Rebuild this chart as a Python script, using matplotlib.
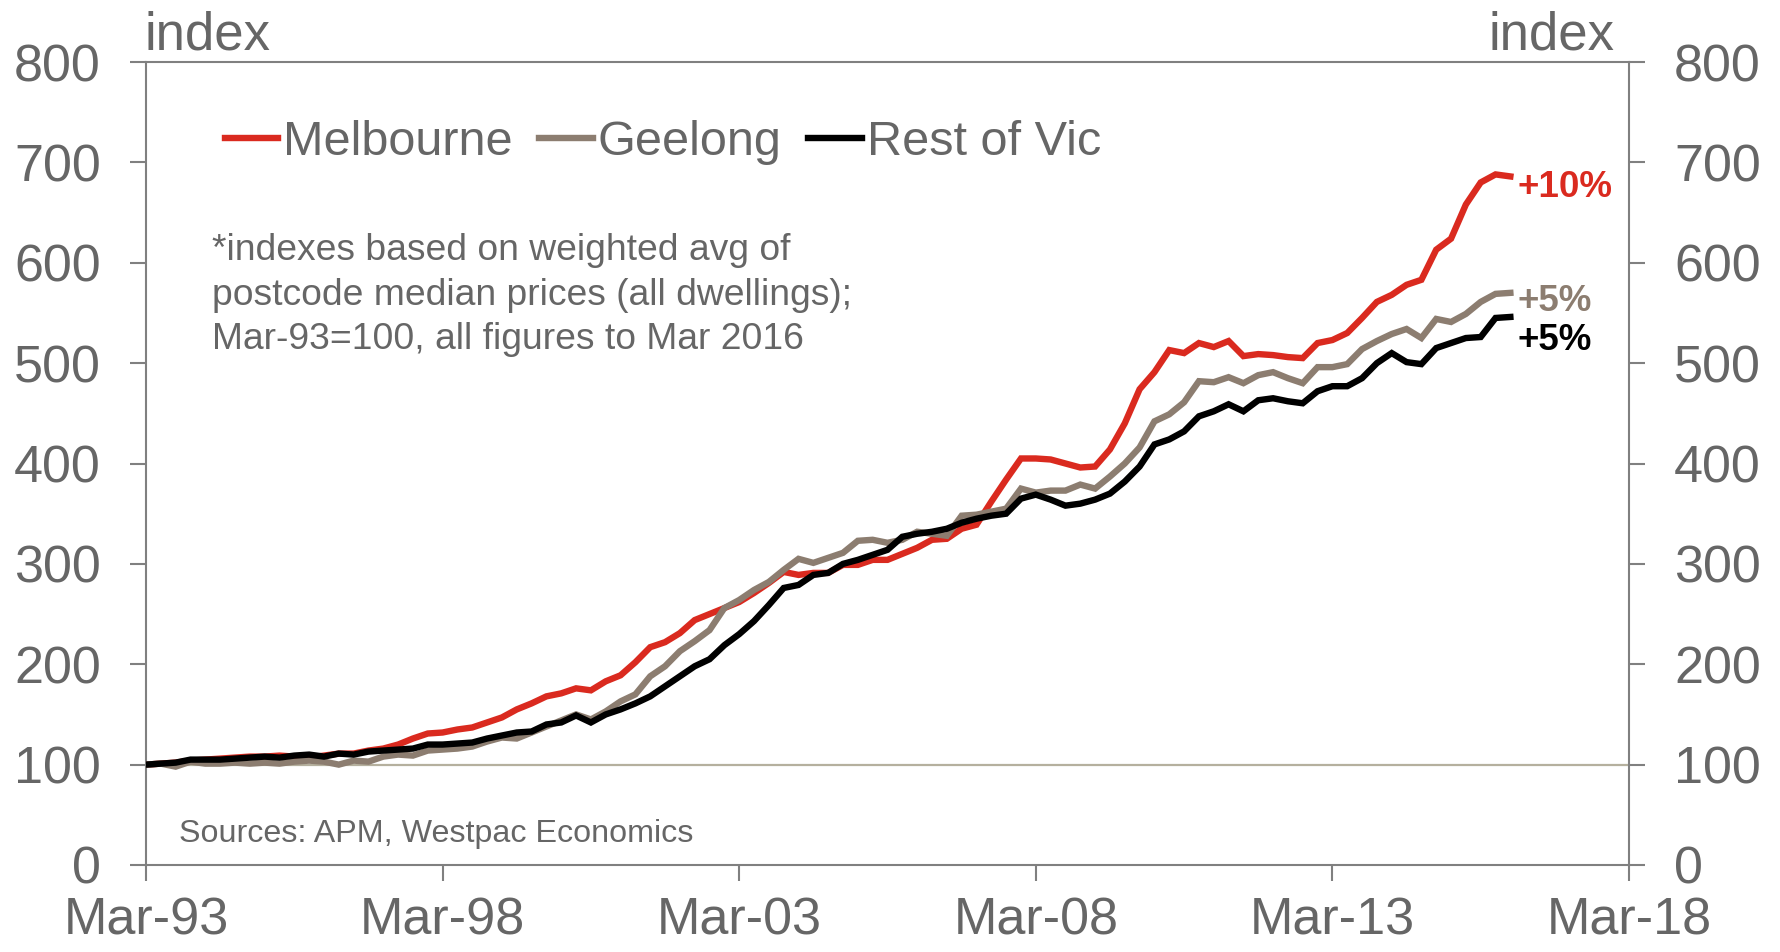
import matplotlib

matplotlib.use("Agg")

import matplotlib.pyplot as plt
import numpy as np

# quarterly index, Mar-93 = 100, to Mar-16
melbourne = [
    100, 101, 102, 104, 105, 106, 107, 108, 108, 109, 108, 107, 109,
    111, 111, 114, 116, 120, 126, 131, 132,
    135, 137, 142, 147, 155, 161, 168, 171, 176, 174,
    183, 189, 202, 217, 222, 231, 244, 250, 256, 262,
    271, 281, 292, 289, 291, 291, 299, 299, 304, 304,
    310, 316, 324, 325, 335, 339, 362, 384, 405, 405,
    404, 400, 396, 397, 414, 440, 474, 491, 513, 510,
    520, 516, 522, 507, 509, 508, 506, 505, 520, 523,
    530, 545, 561, 568, 578, 583, 613, 624, 658, 680, 688, 686,
]
geelong = [
    100, 101, 98, 103, 101, 101, 102, 101, 102, 101, 103, 104, 103,
    100, 104, 103, 108, 110, 109, 114, 115,
    116, 118, 123, 127, 126, 132, 138, 144, 150, 145,
    153, 163, 170, 188, 198, 213, 223, 234, 256, 264,
    274, 282, 294, 305, 301, 306, 311, 323, 324, 321,
    324, 332, 330, 328, 348, 349, 352, 355, 375, 371,
    373, 373, 379, 375, 387, 400, 416, 442, 449, 461,
    482, 481, 486, 480, 488, 491, 485, 480, 496, 496,
    499, 514, 522, 529, 534, 525, 544, 541, 549, 561, 569, 570,
]
rest_of_vic = [
    100, 101, 102, 105, 105, 105, 106, 107, 108, 107, 109, 110, 108,
    111, 110, 113, 114, 115, 116, 120, 120,
    121, 122, 126, 129, 132, 133, 140, 142, 149, 142,
    150, 155, 161, 168, 178, 188, 198, 205, 219, 230,
    243, 259, 276, 279, 289, 291, 300, 304, 309, 314,
    327, 330, 332, 335, 341, 345, 348, 350, 365, 369,
    364, 358, 360, 364, 370, 382, 397, 419, 424, 432,
    447, 452, 459, 452, 463, 465, 462, 460, 472, 477,
    477, 485, 500, 510, 501, 499, 515, 520, 525, 526, 545, 546,
]
series_names = ["Melbourne", "Geelong", "Rest of Vic"]
growth_labels = ["+10%", "+5%", "+5%"]
x_tick_labels = ["Mar-93", "Mar-98", "Mar-03", "Mar-08", "Mar-13", "Mar-18"]
y_ticks = [0, 100, 200, 300, 400, 500, 600, 700, 800]

RED = "#DA2A1F"
TAUPE = "#8C7D70"
BLACK = "#000000"
TEXT = "#666666"
AXIS = "#808080"
BASE = "#B5B09E"

plt.rcParams["font.family"] = ["Liberation Sans", "DejaVu Sans"]

fig = plt.figure(figsize=(17.81, 9.52), dpi=100)
ax = fig.add_axes([146 / 1781, 87 / 952, 1483 / 1781, 803 / 952])

quarters = np.arange(len(melbourne))
colors = [RED, TAUPE, BLACK]
ax.axhline(100, color=BASE, lw=1.6, zorder=1)
for values, name, color in zip([melbourne, geelong, rest_of_vic], series_names, colors):
    ax.plot(quarters, values, color=color, lw=4.6, label=name, zorder=3,
            solid_joinstyle="miter")

offsets = [-8.3, -6.1, -16.9]
for values, label, color, dy in zip([melbourne, geelong, rest_of_vic], growth_labels, colors, offsets):
    ax.annotate(label, xy=(quarters[-1], values[-1]), xytext=(5.5, dy), textcoords="offset points",
                va="center", ha="left", fontsize=26.5, fontweight="bold", color=color)

ax.set_xlim(0, 100)
ax.set_ylim(0, 800)
ax.set_xticks(np.arange(0, 101, 20))
ax.set_xticklabels(x_tick_labels)
ax.set_yticks(y_ticks)

for side in ["left", "right", "bottom", "top"]:
    ax.spines[side].set_color(AXIS)
    ax.spines[side].set_linewidth(1.5)

ax.tick_params(axis="both", direction="out", length=11.5, width=1.5, color=AXIS,
               labelcolor=TEXT, labelsize=37.5)
ax.tick_params(axis="y", pad=21)
ax.tick_params(axis="x", pad=11)

ax2 = ax.twinx()
ax2.set_ylim(ax.get_ylim())
ax2.set_yticks(y_ticks)
ax2.tick_params(axis="y", direction="out", length=11.5, width=1.5, color=AXIS,
                labelcolor=TEXT, labelsize=37.5, pad=21)
for side in ["left", "right", "bottom", "top"]:
    ax2.spines[side].set_visible(False)

fig.text(145 / 1781, 1 - 50 / 952, "index", fontsize=38, color=TEXT, ha="left", va="baseline")
fig.text(1615 / 1781, 1 - 50 / 952, "index", fontsize=38, color=TEXT, ha="right", va="baseline")

ax.legend(loc="center left", bbox_to_anchor=(0.053, 0.9, 0, 0), ncol=3, frameon=False,
          fontsize=35, handlelength=1.1, handletextpad=0.1, columnspacing=0.55,
          borderaxespad=0, borderpad=0, labelcolor=TEXT)

ax.text(0.0445, 0.787,
        "*indexes based on weighted avg of\npostcode median prices (all dwellings);\n"
        "Mar-93=100, all figures to Mar 2016",
        transform=ax.transAxes, fontsize=26.8, color=TEXT, ha="left", va="top",
        linespacing=1.36)
ax.text(0.0223, 0.038, "Sources: APM, Westpac Economics", transform=ax.transAxes,
        fontsize=23.2, color=TEXT, ha="left", va="center")

fig.savefig("out.png", dpi=100)
